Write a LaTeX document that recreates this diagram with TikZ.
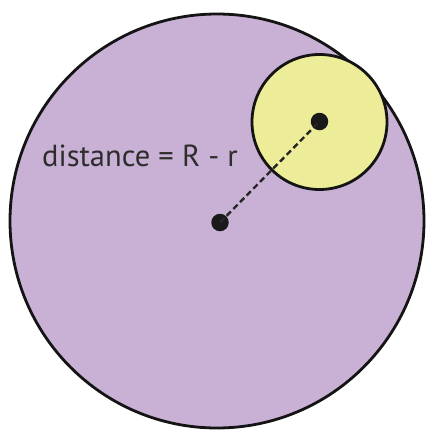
\documentclass[tikz,border=0pt]{standalone}
\usepackage{fontspec}
\setmainfont{PT Sans}
\definecolor{bigfill}{RGB}{201,177,214}
\definecolor{smallfill}{RGB}{237,236,152}
\definecolor{txtgray}{RGB}{45,45,45}
\begin{document}
\begin{tikzpicture}[x=1pt,y=-1pt,
  circline/.style={draw=black!92,line width=2.8pt},
  dotstyle/.style={circle,fill=black!90,inner sep=0pt,minimum size=17.5pt},
  dashline/.style={black!85,line width=2.4pt,dash pattern=on 6pt off 3.5pt}]
\useasboundingbox (0,0) rectangle (426,432);
\fill[white] (0,0) rectangle (426,432);
\begin{scope}
\clip (0,0) rectangle (426,432);
\filldraw[circline,fill=bigfill] (217,221) circle (207);
\end{scope}
\filldraw[circline,fill=smallfill] (319.5,122) circle (67.5);
\node[dotstyle] (C) at (220,222.5) {};
\node[dotstyle] (c) at (319.5,121.5) {};
\draw[dashline] (C.center) -- (c.center);
\node[anchor=base west,inner sep=0pt,text=txtgray,font=\fontsize{30.5}{36}\selectfont] (lbl) at (42,166) {distance = R - r};
\end{tikzpicture}
\end{document}
